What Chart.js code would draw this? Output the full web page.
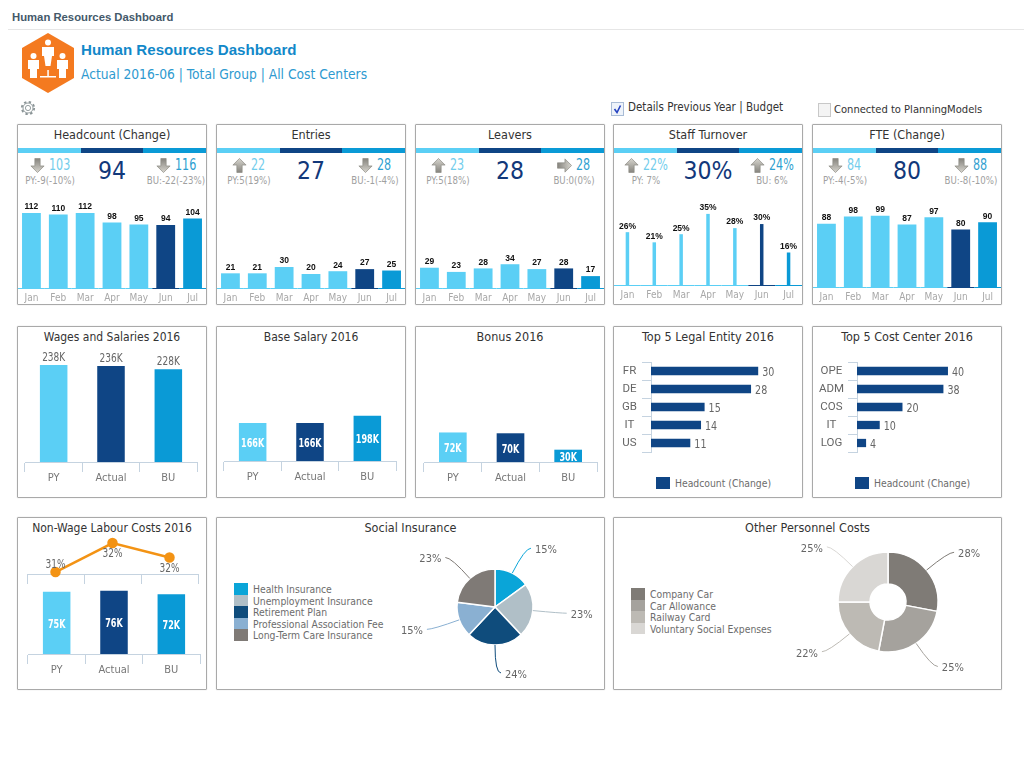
<!DOCTYPE html>
<html>
<head>
<meta charset="utf-8">
<title>Human Resources Dashboard</title>
<script src="https://cdn.jsdelivr.net/npm/chart.js@4"></script>
<style>
    html, body { margin: 0; padding: 0; background: #fff; width: 1024px; height: 768px; overflow: hidden; }
    body { font-family: "DejaVu Sans Condensed", "Open Sans", sans-serif; position: relative; }
    .abs, canvas { position: absolute; }
    .card { position: absolute; box-sizing: border-box; border: 1px solid #a9a9a9; box-shadow: 0 0 1px #b5b5b5; border-radius: 1px; }
    .title { position: absolute; left: 0; right: 0; text-align: center; font-size: 12.5px; color: #333; line-height: 16px; }
    .strip { position: absolute; left: 0; right: 0; top: 23px; height: 5px; display: flex; }
    .strip div { flex: 1; }
    .big { position: absolute; left: 0; right: 0; top: 28px; text-align: center; font-size: 24.5px; line-height: 36px; color: #12387a; }
    .side { position: absolute; top: 30px; width: 70px; text-align: center; white-space: nowrap; }
    .side .row { display: flex; justify-content: center; align-items: center; gap: 4px; height: 20px; font-size: 15.5px; }
    .side .row span { display: inline-block; transform: scaleX(0.8); transform-origin: left center; }
    .side .sub { font-size: 9.6px; color: #a0a0a0; line-height: 12px; }
    .legend { position: absolute; font-size: 10.3px; color: #6c6c6c; }
    .legend div { position: relative; height: 11.6px; line-height: 13.6px; padding-left: 19px; white-space: nowrap; }
    .legend i { position: absolute; left: 0; top: 0; width: 14px; height: 11.6px; }
</style>
</head>
<body>
<script>
// ---- data ----
const months = ['Jan', 'Feb', 'Mar', 'Apr', 'May', 'Jun', 'Jul'];
const headcount = [112, 110, 112, 98, 95, 94, 104];
const entries = [21, 21, 30, 20, 24, 27, 25];
const leavers = [29, 23, 28, 34, 27, 28, 17];
const turnover = [26, 21, 25, 35, 28, 30, 16];
const fte = [88, 98, 99, 87, 97, 80, 90];

const kpiTitles = ['Headcount (Change)', 'Entries', 'Leavers', 'Staff Turnover', 'FTE (Change)'];
const kpiActual = ['94', '27', '28', '30%', '80'];
const kpiPrev = ['103', '22', '23', '22%', '84'];
const kpiPrevNote = ['PY:-9(-10%)', 'PY:5(19%)', 'PY:5(18%)', 'PY: 7%', 'PY:-4(-5%)'];
const kpiPrevArrow = ['down', 'up', 'up', 'up', 'down'];
const kpiBudget = ['116', '28', '28', '24%', '88'];
const kpiBudgetNote = ['BU:-22(-23%)', 'BU:-1(-4%)', 'BU:0(0%)', 'BU: 6%', 'BU:-8(-10%)'];
const kpiBudgetArrow = ['down', 'down', 'right', 'up', 'down'];

const scenarios = ['PY', 'Actual', 'BU'];
const wages = [238, 236, 228];
const baseSalary = [166, 166, 198];
const bonus = [72, 70, 30];
const nonWage = [75, 76, 72];
const nonWageShare = [30.6, 32.4, 31.5];

const legalEntities = ['FR', 'DE', 'GB', 'IT', 'US'];
const legalHeadcount = [30, 28, 15, 14, 11];
const costCenters = ['OPE', 'ADM', 'COS', 'IT', 'LOG'];
const costHeadcount = [40, 38, 20, 10, 4];

const socialNames = ['Health Insurance', 'Unemployment Insurance', 'Retirement Plan', 'Professional Association Fee', 'Long-Term Care Insurance'];
const socialShare = [15, 23, 24, 15, 23];
const otherNames = ['Company Car', 'Car Allowance', 'Railway Card', 'Voluntary Social Expenses'];
const otherShare = [28, 25, 22, 25];

// ---- colours ----
const LIGHT = '#5bcff5', DARK = '#0f4585', MID = '#0a9ad6';
const monthColors = [LIGHT, LIGHT, LIGHT, LIGHT, LIGHT, DARK, MID];
const scenarioColors = [LIGHT, DARK, MID];
const socialColors = ['#0aa5d8', '#b0bfc7', '#0f4c7c', '#8ab0d2', '#7f7a76'];
const otherColors = ['#7f7b76', '#a5a29d', '#bdbab4', '#d9d7d4'];
const AXIS = '#c5d3e0';
const FONT = '"DejaVu Sans Condensed", "Open Sans", sans-serif';

Chart.defaults.animation = false;
Chart.defaults.responsive = false;
Chart.defaults.font.family = FONT;
Chart.defaults.plugins.legend.display = false;
Chart.defaults.plugins.tooltip.enabled = false;

// number labels next to the marks, squeeze makes them as narrow as the original font
Chart.register({
    id: 'valueLabels',
    afterDatasetsDraw(chart, args, opts) {
        if (!opts.labels) return;
        const ctx = chart.ctx;
        chart.getDatasetMeta(0).data.forEach((el, i) => {
            const place = opts.places ? opts.places[i] : opts.place;
            const gap = opts.gaps ? opts.gaps[i] : opts.gap;
            let x = el.x, y = el.y;
            if (place === 'top') y -= gap;
            if (place === 'below') y += gap;
            if (place === 'center') y = (el.y + el.base) / 2 + 2;
            if (place === 'right') { x += 4; y += 1.5; }
            ctx.save();
            ctx.font = opts.font;
            ctx.fillStyle = opts.color;
            ctx.textAlign = place === 'right' ? 'left' : 'center';
            ctx.textBaseline = 'middle';
            ctx.translate(x, y);
            ctx.scale(opts.squeeze || 1, 1);
            ctx.fillText(opts.labels[i], 0, 0);
            ctx.restore();
        });
    }
});

// first row: the base line takes the colour of the bar above it
Chart.register({
    id: 'baseColors',
    afterDatasetsDraw(chart, args, opts) {
        if (!opts.on) return;
        const ctx = chart.ctx, xs = chart.scales.x, y = chart.chartArea.bottom + 0.5;
        const step = xs.getPixelForValue(1) - xs.getPixelForValue(0);
        months.forEach((m, i) => {
            const px = xs.getPixelForValue(i);
            ctx.strokeStyle = monthColors[i];
            ctx.beginPath();
            ctx.moveTo(px - step / 2, y);
            ctx.lineTo(px + step / 2, y);
            ctx.stroke();
        });
    }
});

// curved leader lines and percent labels of the pies
Chart.register({
    id: 'leaders',
    afterDatasetsDraw(chart, args, opts) {
        if (!opts.on) return;
        const ctx = chart.ctx, ds = chart.data.datasets[0];
        chart.getDatasetMeta(0).data.forEach((arc, i) => {
            const p = arc.getProps(['x', 'y', 'startAngle', 'endAngle', 'outerRadius']);
            const mid = (p.startAngle + p.endAngle) / 2;
            const cos = Math.cos(mid), sin = Math.sin(mid);
            const side = cos > -0.05 ? 1 : -1;
            const cx = p.x + cos * (p.outerRadius + 28), cy = p.y + sin * (p.outerRadius + 28);
            const ex = cx + side * 6;
            ctx.strokeStyle = ds.backgroundColor[i];
            ctx.lineWidth = 1;
            ctx.beginPath();
            ctx.moveTo(p.x + cos * p.outerRadius, p.y + sin * p.outerRadius);
            ctx.quadraticCurveTo(cx, cy, ex, cy);
            ctx.stroke();
            ctx.font = '11px ' + FONT;
            ctx.fillStyle = '#666';
            ctx.textAlign = 'center';
            ctx.textBaseline = 'middle';
            ctx.fillText(ds.data[i] + '%', ex + side * 15, cy + 2);
        });
    }
});

// ---- page helpers ----
function el(tag, cls, css, text, parent) {
    const e = document.createElement(tag);
    if (cls) e.className = cls;
    if (css) e.style.cssText = css;
    if (text) e.textContent = text;
    (parent || document.body).appendChild(e);
    return e;
}

function card(x, y, w, h, title, titleSize) {
    const c = el('div', 'card', `left:${x}px;top:${y}px;width:${w}px;height:${h}px`);
    el('div', 'title', 'top:2px;font-size:' + (titleSize || 12.5) + 'px', title, c);
    return c;
}

function canvas(x, y, w, h) {
    const c = el('canvas', '', `left:${x}px;top:${y}px`);
    c.width = w;
    c.height = h;
    return c;
}

function arrowSvg(dir) {
    const rot = { up: 0, down: 180, right: 90 }[dir];
    return `<svg width="15" height="15" viewBox="0 0 16 17"><defs><linearGradient id="g${dir}" x1="0" y1="0" x2="0" y2="1">
        <stop offset="0" stop-color="#d8d6cf"/><stop offset="1" stop-color="#85837d"/></linearGradient></defs>
        <g transform="rotate(${rot} 8 8.5)"><polygon points="8,0.5 15.500,8 11,8 11,16.500 5,16.500 5,8 0.500,8"
        fill="url(#g${dir})" stroke="#8d8b85" stroke-width="0.8"/></g></svg>`;
}

function sideKpi(parent, left, dir, value, note, color) {
    const s = el('div', 'side', `left:${left - 35}px`, '', parent);
    const row = el('div', 'row', `color:${color}`, '', s);
    row.innerHTML = arrowSvg(dir) + '<span>' + value + '</span>';
    // the number is squeezed, give back the width it no longer needs
    const num = row.querySelector('span');
    num.style.marginRight = -(num.offsetWidth * 0.2) + 'px';
    el('div', 'sub', '', note, s);
}

function legend(x, y, names, colors) {
    const l = el('div', 'legend', `left:${x}px;top:${y}px`);
    names.forEach((n, i) => {
        const row = el('div', '', '', n, l);
        el('i', '', `background:${colors[i]}`, '', row);
    });
}

// ---- chart helpers ----
function monthBars(x, top, baseline, values, max, suffix, barShare) {
    new Chart(canvas(x, top, 188, 305 - top), {
        type: 'bar',
        data: { labels: months, datasets: [{ data: values, backgroundColor: monthColors, borderWidth: 0, barPercentage: barShare, categoryPercentage: 1 }] },
        options: {
            scales: {
                y: { display: false, min: 0, max: max },
                x: {
                    grid: { display: false, drawTicks: false },
                    border: { display: false },
                    ticks: { color: '#a8a8a8', font: { size: 10 }, padding: 4, maxRotation: 0, autoSkip: false },
                    afterFit: s => { s.height = 305 - baseline; }
                }
            },
            plugins: {
                baseColors: { on: true },
                valueLabels: { labels: values.map(v => v + suffix), place: 'top', gap: 6, font: 'bold 8.5px "Liberation Sans"', color: '#111' }
            }
        }
    });
}

function scenarioBars(x, top, baseline, width, values, max, labelOpts) {
    const h = baseline + 28 - top;
    new Chart(canvas(x - 1, top, width + 2, h), {
        type: 'bar',
        data: { labels: scenarios, datasets: [{ data: values, backgroundColor: scenarioColors, borderWidth: 0, barPercentage: 0.48, categoryPercentage: 1 }] },
        options: {
            layout: { padding: { left: 1, right: 1 } },
            scales: {
                y: { display: false, min: 0, max: max },
                x: {
                    grid: { drawOnChartArea: false, tickLength: 10, color: AXIS },
                    border: { color: AXIS },
                    ticks: { color: '#777', font: { size: 11 }, padding: 0, maxRotation: 0 },
                    afterFit: s => { s.height = 28; }
                }
            },
            plugins: { valueLabels: Object.assign({ labels: values.map(v => v + 'K'), gap: 7 }, labelOpts) }
        }
    });
}

function topBars(left, axisWidth, labelPad, names, values, max, width) {
    new Chart(canvas(left, 361, width, 92), {
        type: 'bar',
        data: { labels: names, datasets: [{ data: values, backgroundColor: DARK, borderWidth: 0, barPercentage: 0.46, categoryPercentage: 1 }] },
        options: {
            indexAxis: 'y',
            layout: { padding: { top: 1, bottom: 1 } },
            scales: {
                x: { display: false, min: 0, max: max },
                y: {
                    grid: { drawOnChartArea: false, tickLength: 9, color: AXIS },
                    border: { color: AXIS },
                    ticks: { color: '#666', font: { family: 'Roboto', size: 11.5 }, padding: labelPad, crossAlign: 'center', autoSkip: false },
                    afterFit: s => { s.width = axisWidth; s.paddingTop = 0; s.paddingBottom = 0; }
                }
            },
            plugins: { valueLabels: { labels: values.map(String), place: 'right', font: '12.5px ' + FONT, color: '#666', squeeze: 0.85 } }
        }
    });
}

function pie(x, y, w, h, radius, cutout, values, colors) {
    new Chart(canvas(x, y, w, h), {
        type: 'doughnut',
        data: { labels: values.map(String), datasets: [{ data: values, backgroundColor: colors, borderColor: '#fff', borderWidth: 1.5 }] },
        options: { radius: radius, cutout: cutout, plugins: { leaders: { on: true } } }
    });
}

// ---- header ----
el('div', 'abs', 'left:12px;top:11px;font:bold 11.3px "Liberation Sans";color:#44596a', 'Human Resources Dashboard');
el('div', 'abs', 'left:8px;right:0;top:29px;height:1px;background:#e6e6e6');
el('div', 'abs', 'left:81px;top:41px;font:bold 15.1px "Liberation Sans";color:#1288c9', 'Human Resources Dashboard');
el('div', 'abs', 'left:81px;top:66px;font-size:13.7px;color:#2e9ad0;white-space:pre', 'Actual 2016-06 | Total Group | All Cost Centers');

const logo = el('div', 'abs', 'left:22px;top:33px');
logo.innerHTML = `<svg width="52" height="60" viewBox="0 0 52 60">
    <polygon points="26,0 52,15 52,45 26,60 0,45 0,15" fill="#f47a20"/>
    <g fill="#fff">
      <circle cx="26" cy="9.5" r="3"/><path d="M20,14 h12 v9 h-2 l-1.500,10 h-5 l-1.500,-10 h-2z"/>
      <circle cx="11.500" cy="23" r="3"/><path d="M6,27 h11 v9 h-2 v9 h-7 v-9 h-2z"/>
      <circle cx="40.500" cy="23" r="3"/><path d="M35,27 h11 v9 h-2 v9 h-7 v-9 h-2z"/>
      <rect x="18" y="43" width="16" height="1.500"/><rect x="25.300" y="37" width="1.500" height="7"/>
    </g></svg>`;

const gear = el('div', 'abs', 'left:20px;top:100px');
gear.innerHTML = `<svg width="16" height="16" viewBox="0 0 16 16" fill="none" stroke="#8a9496" stroke-width="0.9">
    <circle cx="8" cy="8" r="2.600"/><circle cx="8" cy="8" r="5"/>
    <circle cx="8" cy="8" r="6.200" stroke-width="1.800" stroke-dasharray="2.400 2.470"/></svg>`;

const tick = el('div', 'abs', 'left:611px;top:102px;width:11px;height:12px;border:1px solid #a9bcd6;background:#eef3fa;overflow:hidden');
tick.innerHTML = '<svg width="11" height="12" viewBox="0 0 11 12" style="display:block"><path d="M2.500,6 L5,9.500 L8.500,2.500" fill="none" stroke="#2340c0" stroke-width="1.600"/></svg>';
el('div', 'abs', 'left:628px;top:100px;font-size:11.5px;color:#333;white-space:pre', 'Details Previous Year | Budget');
el('div', 'abs', 'left:818px;top:103px;width:11px;height:12px;border:1px solid #c8c8c8;background:#f4f4f4');
el('div', 'abs', 'left:834px;top:103px;font-size:11.1px;color:#333', 'Connected to PlanningModels');

// ---- first row ----
const kpiLefts = [17, 216, 415, 613, 812];
kpiTitles.forEach((title, i) => {
    const c = card(kpiLefts[i], 124, 190, 181, title);
    const strip = el('div', 'strip', '', '', c);
    scenarioColors.forEach(col => el('div', '', `background:${col}`, '', strip));
    el('div', 'big', '', kpiActual[i], c);
    sideKpi(c, 32, kpiPrevArrow[i], kpiPrev[i], kpiPrevNote[i], '#72cdec');
    sideKpi(c, 158, kpiBudgetArrow[i], kpiBudget[i], kpiBudgetNote[i], '#2e9fd0');
});

monthBars(18, 195, 288, headcount, 139, '', 0.7);
monthBars(217, 195, 288, entries, 133, '', 0.7);
monthBars(416, 195, 288, leavers, 133, '', 0.7);
monthBars(614, 195, 285, turnover, 44.3, '%', 0.13);
monthBars(813, 195, 287, fte, 128, '', 0.7);

// ---- second row ----
card(17, 326, 190, 172, 'Wages and Salaries 2016', 12);
card(216, 326, 190, 172, 'Base Salary 2016', 12);
card(415, 326, 190, 172, 'Bonus 2016');
card(613, 326, 190, 172, 'Top 5 Legal Entity 2016');
card(812, 326, 190, 172, 'Top 5 Cost Center 2016');

const plainTop = { place: 'top', font: '12.5px ' + FONT, color: '#666', squeeze: 0.8 };
const insideBar = { place: 'center', font: 'bold 11.5px ' + FONT, color: '#fff', squeeze: 0.78 };
scenarioBars(25, 350, 462, 172, wages, 275, plainTop);
scenarioBars(224, 350, 461, 172, baseSalary, 485, insideBar);
scenarioBars(424, 350, 462, 173, bonus, 273, insideBar);

topBars(619, 32, 5, legalEntities, legalHeadcount, 41.7, 181);
topBars(819, 38, 4, costCenters, costHeadcount, 62, 179);
legend(656, 477, ['Headcount (Change)'], [DARK]);
legend(855, 477, ['Headcount (Change)'], [DARK]);

// ---- third row ----
card(17, 517, 190, 173, 'Non-Wage Labour Costs 2016', 12);
card(216, 517, 389, 173, 'Social Insurance');
card(613, 517, 389, 173, 'Other Personnel Costs');

scenarioBars(28, 585, 654, 172, nonWage, 83, insideBar);

new Chart(canvas(26, 525, 173, 59), {
    type: 'line',
    data: { labels: scenarios, datasets: [{ data: nonWageShare, borderColor: '#f39314', backgroundColor: '#f39314', borderWidth: 2.5, pointRadius: 4, clip: false, tension: 0 }] },
    options: {
        layout: { autoPadding: false, padding: { left: 1, right: 1 } },
        scales: {
            y: { display: false, min: 30.48, max: 33.52 },
            x: {
                offset: true,
                grid: { offset: true, drawOnChartArea: false, tickLength: 10, color: AXIS },
                border: { color: AXIS },
                ticks: { display: false }
            }
        },
        plugins: {
            valueLabels: {
                labels: nonWageShare.map(v => Math.round(v) + '%'), places: ['top', 'below', 'below'], gaps: [7, 11, 11],
                font: '12.5px ' + FONT, color: '#666', squeeze: 0.8
            }
        }
    }
});

legend(234, 583, socialNames, socialColors);
pie(385, 527, 220, 160, 38, 0, socialShare, socialColors);
legend(631, 588, otherNames, otherColors);
pie(778, 522, 220, 160, 50, '36%', otherShare, otherColors);
</script>
</body>
</html>
